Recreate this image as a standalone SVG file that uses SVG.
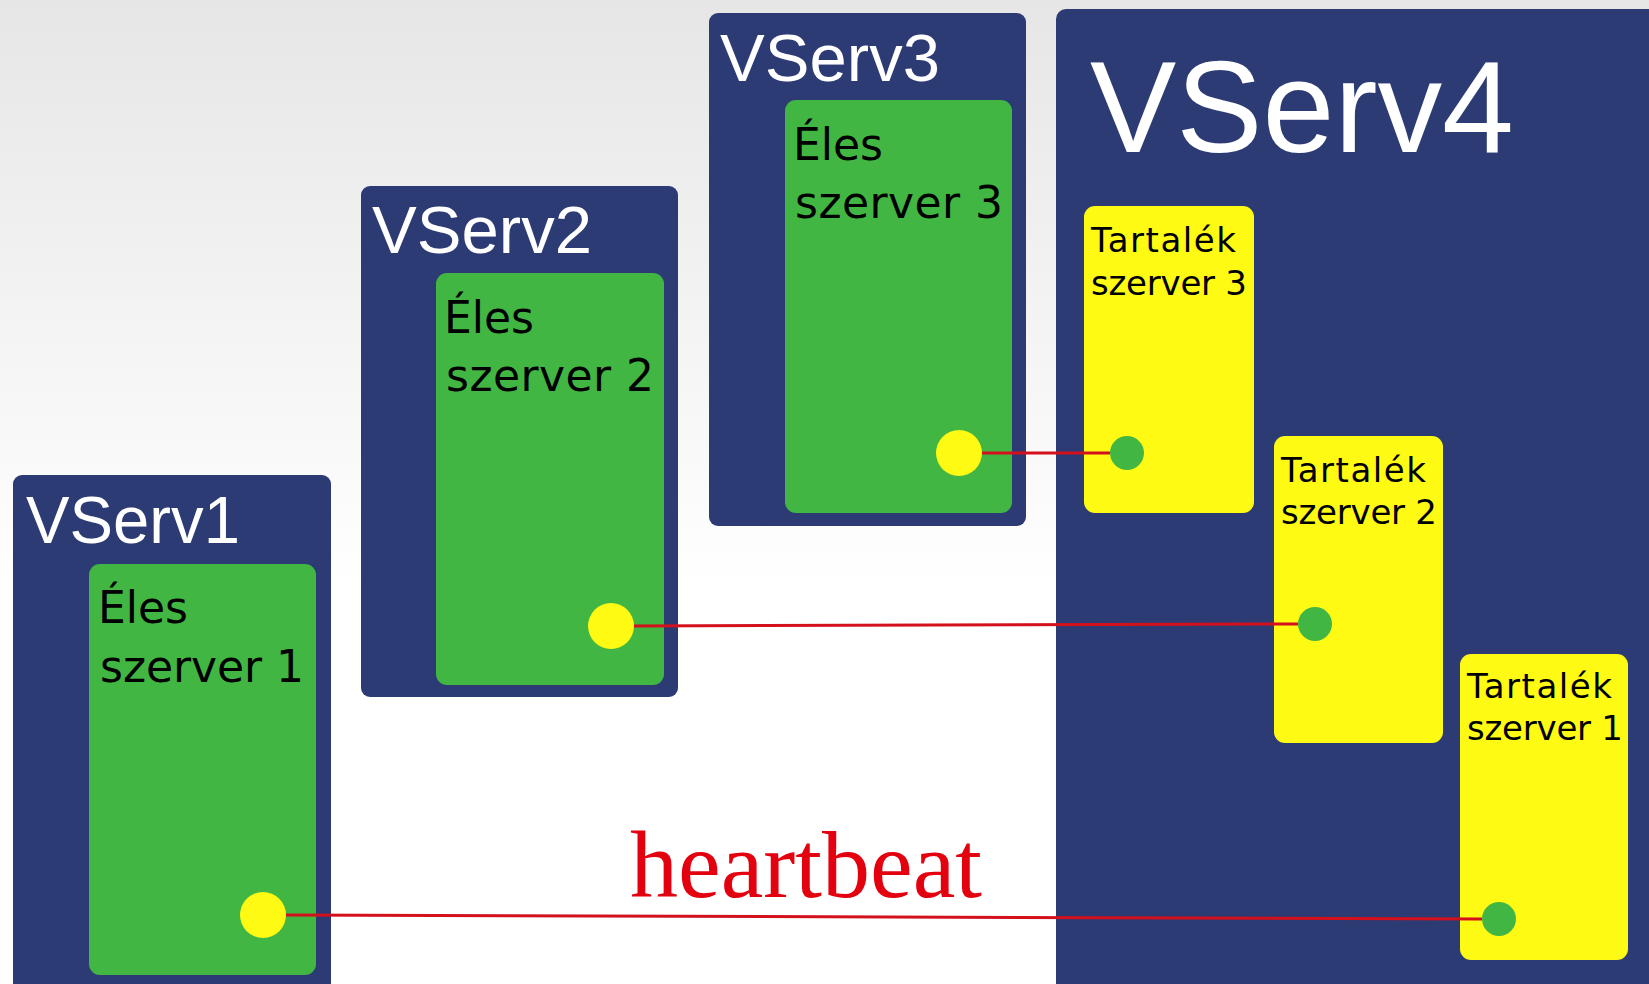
<svg xmlns="http://www.w3.org/2000/svg" width="1649" height="984" viewBox="0 0 1649 984">
<defs>
<linearGradient id="bg" x1="0" y1="0" x2="0" y2="1">
<stop offset="0" stop-color="#e6e6e6"/>
<stop offset="0.6" stop-color="#ffffff"/>
<stop offset="1" stop-color="#ffffff"/>
</linearGradient>
</defs>
<style>
.vs{fill:#2c3b74}
.live{fill:#42b642}
.spare{fill:#fefa14}
.ydot{fill:#fefa14}
.gdot{fill:#42b642}
.vlab{font-family:"Liberation Sans",Arial,sans-serif;fill:#ffffff}
.lab{font-family:"DejaVu Sans",sans-serif;fill:#000000}
.conn{stroke:#d4101c;stroke-width:3;fill:none}
.hb{font-family:"Liberation Serif","Times New Roman",serif;fill:#e3000f;font-size:96px}
</style>
<rect x="0" y="0" width="1649" height="984" fill="url(#bg)"/>

<g id="vserv1">
<rect class="vs" x="13" y="475" width="318" height="540" rx="9"/>
<text class="vlab" x="26" y="543" font-size="67" textLength="214" lengthAdjust="spacingAndGlyphs">VServ1</text>
</g>
<g id="eles1">
<rect class="live" x="89" y="564" width="227" height="411" rx="11"/>
<text class="lab" x="98" y="623" font-size="44">Éles</text>
<text class="lab" x="100" y="682" font-size="44" textLength="204" lengthAdjust="spacing">szerver 1</text>
<circle class="ydot" cx="263" cy="915" r="23"/>
</g>

<g id="vserv2">
<rect class="vs" x="361" y="186" width="317" height="511" rx="9"/>
<text class="vlab" x="372" y="253" font-size="67" textLength="220" lengthAdjust="spacingAndGlyphs">VServ2</text>
</g>
<g id="eles2">
<rect class="live" x="436" y="273" width="228" height="412" rx="11"/>
<text class="lab" x="444" y="333" font-size="44">Éles</text>
<text class="lab" x="446" y="391" font-size="44" textLength="208" lengthAdjust="spacing">szerver 2</text>
<circle class="ydot" cx="611" cy="626" r="23"/>
</g>

<g id="vserv3">
<rect class="vs" x="709" y="13" width="317" height="513" rx="9"/>
<text class="vlab" x="720" y="81" font-size="67" textLength="220" lengthAdjust="spacingAndGlyphs">VServ3</text>
</g>
<g id="eles3">
<rect class="live" x="785" y="100" width="227" height="413" rx="11"/>
<text class="lab" x="793" y="160" font-size="44">Éles</text>
<text class="lab" x="795" y="218" font-size="44" textLength="208" lengthAdjust="spacing">szerver 3</text>
<circle class="ydot" cx="959" cy="453" r="23"/>
</g>

<g id="vserv4">
<rect class="vs" x="1056" y="9" width="620" height="1010" rx="10"/>
<text class="vlab" x="1090" y="152" font-size="129" textLength="424" lengthAdjust="spacingAndGlyphs">VServ4</text>
</g>
<g id="tartalek3">
<rect class="spare" x="1084" y="206" width="170" height="307" rx="11"/>
<text class="lab" x="1091" y="252" font-size="34" textLength="145" lengthAdjust="spacing">Tartalék</text>
<text class="lab" x="1091" y="295" font-size="34" textLength="156" lengthAdjust="spacing">szerver 3</text>
<circle class="gdot" cx="1127" cy="453" r="17"/>
</g>
<g id="tartalek2">
<rect class="spare" x="1274" y="436" width="169" height="307" rx="11"/>
<text class="lab" x="1281" y="482" font-size="34" textLength="145" lengthAdjust="spacing">Tartalék</text>
<text class="lab" x="1281" y="524" font-size="34" textLength="156" lengthAdjust="spacing">szerver 2</text>
<circle class="gdot" cx="1315" cy="624" r="17"/>
</g>
<g id="tartalek1">
<rect class="spare" x="1460" y="654" width="168" height="306" rx="11"/>
<text class="lab" x="1467" y="698" font-size="34" textLength="145" lengthAdjust="spacing">Tartalék</text>
<text class="lab" x="1467" y="740" font-size="34" textLength="156" lengthAdjust="spacing">szerver 1</text>
<circle class="gdot" cx="1499" cy="919" r="17"/>
</g>

<g id="connectors">
<line class="conn" x1="982" y1="453" x2="1110" y2="453"/>
<line class="conn" x1="634" y1="626" x2="1298" y2="624"/>
<line class="conn" x1="286" y1="915" x2="1482" y2="919"/>
<text class="hb" x="630" y="897" textLength="352" lengthAdjust="spacingAndGlyphs">heartbeat</text>
</g>
</svg>
